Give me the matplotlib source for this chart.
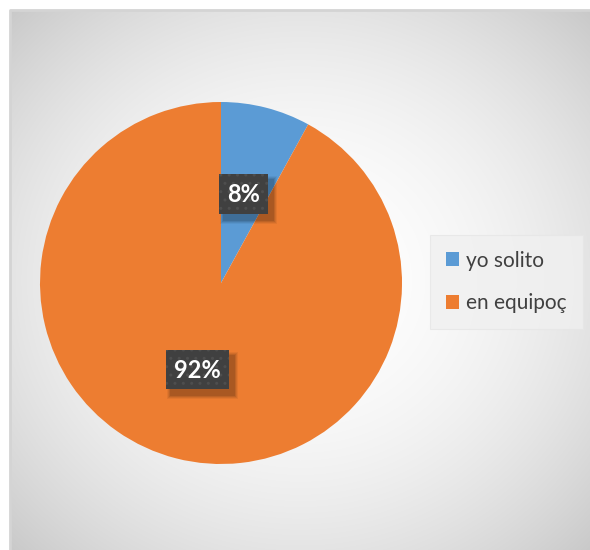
import numpy as np
import matplotlib
matplotlib.use("Agg")
import matplotlib.pyplot as plt
from matplotlib.patches import Patch, Rectangle

# data
labels = ["yo solito", "en equipoç"]
values = [8, 92]
colors = ["#5B9BD5", "#ED7D31"]
pct_text = ["8%", "92%"]

plt.rcParams['font.family'] = ['Lato', 'DejaVu Sans']

W, H = 590, 550
fig = plt.figure(figsize=(W / 100, H / 100), dpi=100, facecolor="white")

# background panel with radial gradient
bg = fig.add_axes([10 / W, 0, 1 - 10 / W, 1 - 10 / H])
yy, xx = np.mgrid[0:540, 0:580]
rn2 = ((xx - 290) / 290.0) ** 2 + ((yy - 270) / 270.0) ** 2
shade = np.clip(255 - 27 * rn2, 0, 255) / 255.0
bg.imshow(np.dstack([shade, shade, shade]), aspect="auto", extent=[0, 1, 0, 1])
bg.set_xlim(0, 1)
bg.set_ylim(0, 1)
bg.axis("off")
bg.plot([0, 0, 1], [0, 1, 1], color="#d4d4d4", lw=2, transform=bg.transAxes, clip_on=False)

# pie
cx, cy, r = 221, 283, 181
ax = fig.add_axes([(cx - r) / W, (H - cy - r) / H, 2 * r / W, 2 * r / H])
ax.pie(values, colors=colors, startangle=90, counterclock=False, radius=1,
       wedgeprops=dict(linewidth=0))
ax.set_xlim(-1, 1)
ax.set_ylim(-1, 1)
ax.set_aspect("equal")
ax.axis("off")

# overlay in pixel coords for the data label boxes
ov = fig.add_axes([0, 0, 1, 1])
ov.set_xlim(0, W)
ov.set_ylim(H, 0)
ov.axis("off")
ov.patch.set_alpha(0)

label_boxes = [(219, 174, 49, 40), (166, 350, 63, 39)]
for (x0, y0, bw, bh), t in zip(label_boxes, pct_text):
    # soft shadow
    for k, a in [(8, 0.05), (6, 0.07), (4, 0.09), (2, 0.1)]:
        ov.add_patch(Rectangle((x0 + 5 - k / 2, y0 + 6 - k / 2), bw + k, bh + k,
                               facecolor="black", alpha=a, edgecolor="none"))
    ov.add_patch(Rectangle((x0, y0), bw, bh, facecolor="#404040",
                           edgecolor="#4e4e4e", linewidth=0, hatch=".."))
    ov.text(x0 + bw / 2, y0 + bh / 2 + 1, t, ha="center", va="center", fontsize=17,
            fontweight="bold", color="white")

handles = [Patch(facecolor=c, edgecolor="none") for c in colors]
leg = fig.legend(handles, labels, loc="center left", bbox_to_anchor=(430 / W, 1 - 282 / H),
                 frameon=True, fontsize=15, handlelength=0.65, handleheight=0.65,
                 handletextpad=0.35, labelspacing=1.1, borderpad=0.75, borderaxespad=0,
                 fancybox=False)
leg.get_frame().set_facecolor("#f0f0f0")
leg.get_frame().set_edgecolor("#e6e6e6")
leg.get_frame().set_linewidth(0.8)
for txt in leg.get_texts():
    txt.set_color("#404040")

fig.savefig("out.png", dpi=100)
